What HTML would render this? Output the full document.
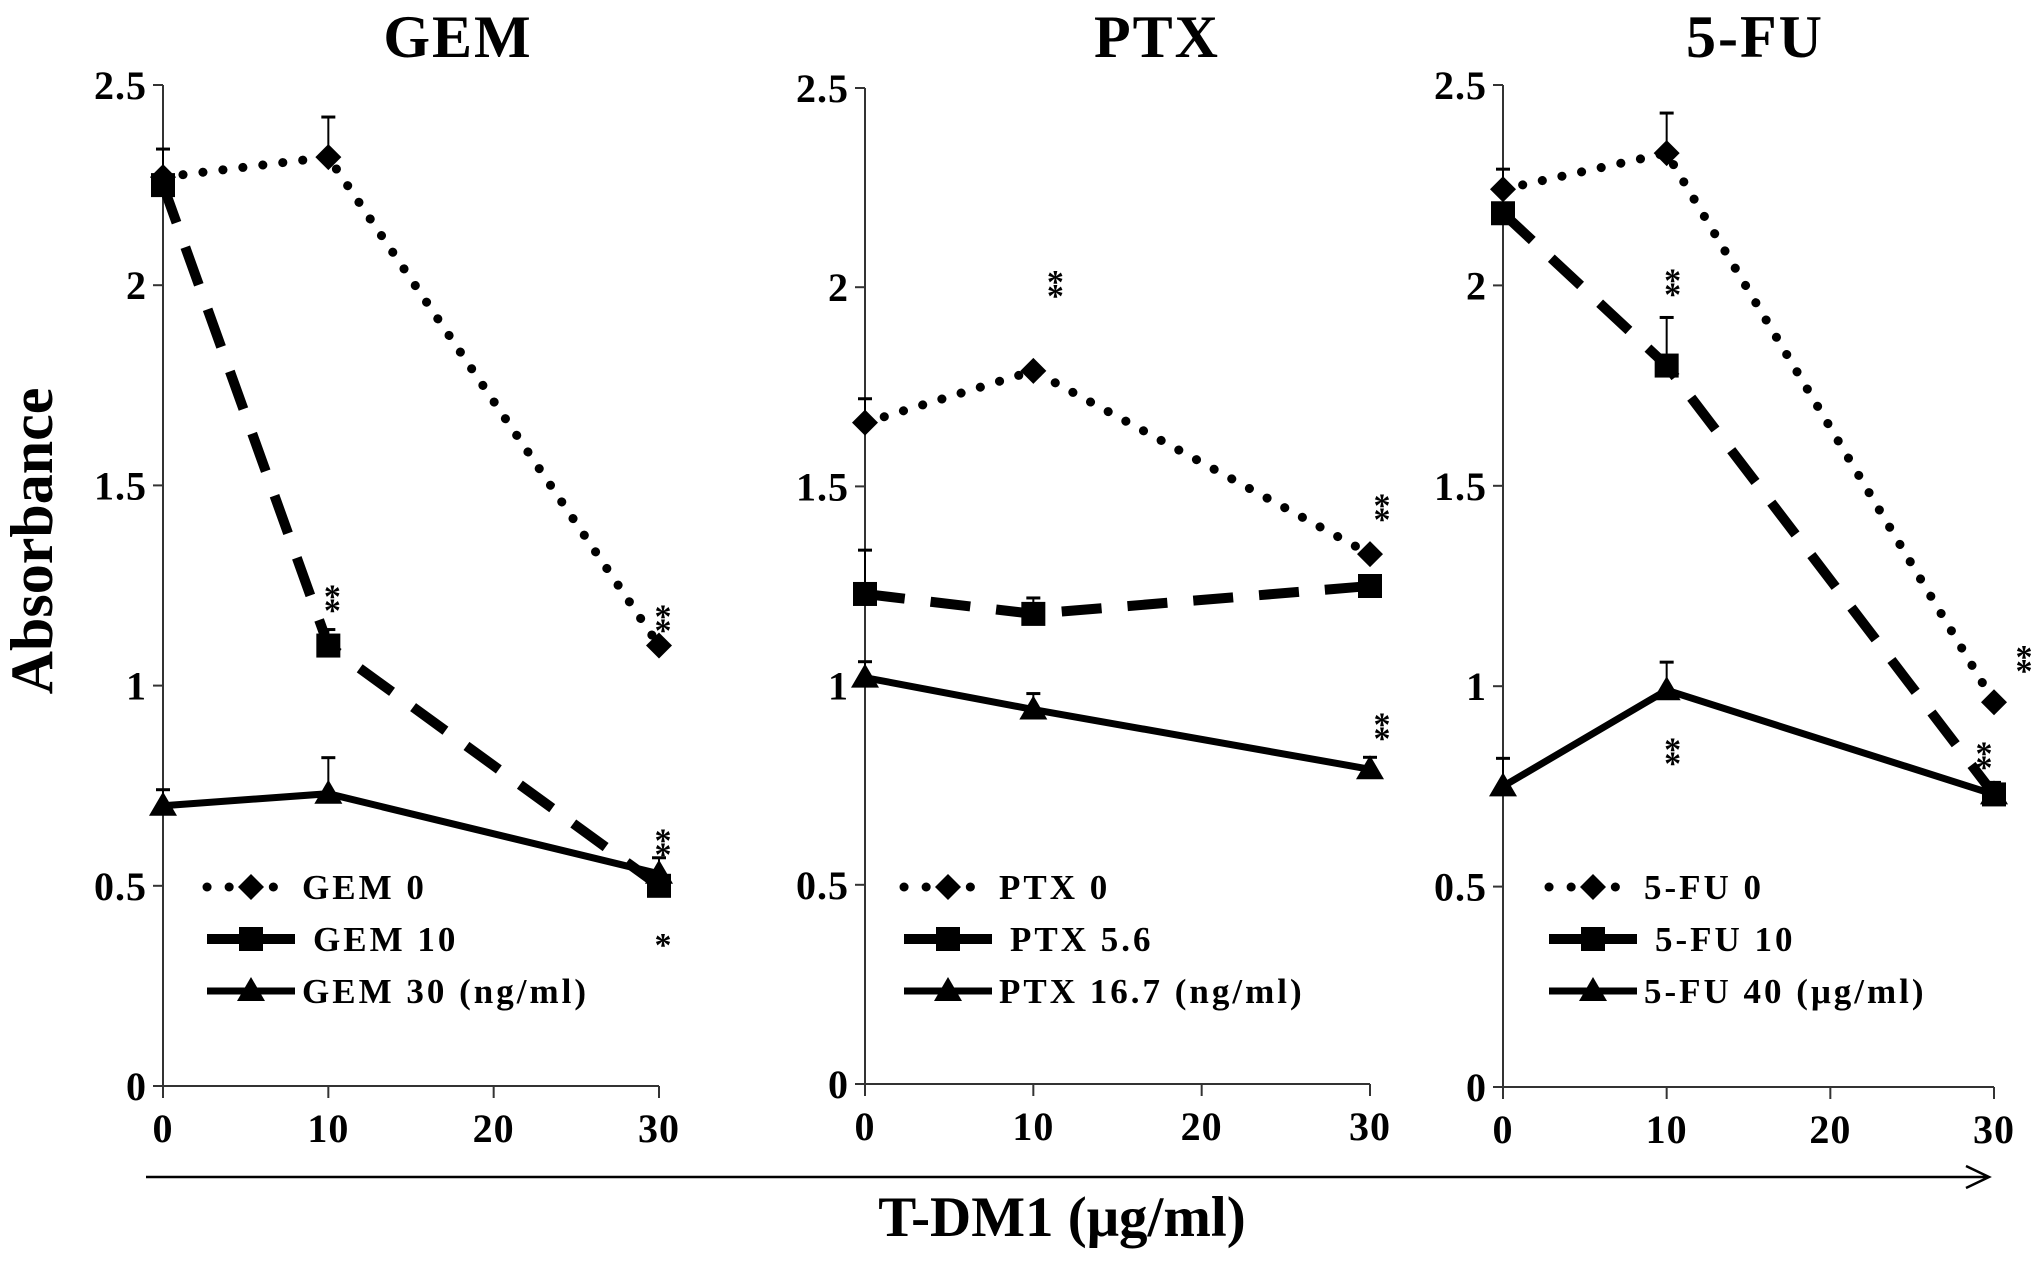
<!DOCTYPE html>
<html><head><meta charset="utf-8"><style>
html,body{margin:0;padding:0;background:#fff;}
svg{display:block;font-family:"Liberation Serif",serif;font-weight:bold;}
</style></head><body>
<svg id="c" width="2031" height="1265" viewBox="0 0 2031 1265" xmlns="http://www.w3.org/2000/svg"></svg>
<script>
const xCats = [0, 10, 30];
const xTicks = [0, 10, 20, 30];
const yTicks = [0, 0.5, 1, 1.5, 2, 2.5];
const yTickLabels = ["0", "0.5", "1", "1.5", "2", "2.5"];
const panelTitles = ["GEM", "PTX", "5-FU"];
const legendLabels = [["GEM 0", "GEM 10", "GEM 30 (ng/ml)"], ["PTX 0", "PTX 5.6", "PTX 16.7 (ng/ml)"], ["5-FU 0", "5-FU 10", "5-FU 40 (μg/ml)"]];
const gem0 = [2.27, 2.32, 1.10];
const gem0Err = [null, 2.42, null];
const gem10 = [2.25, 1.10, 0.50];
const gem10Err = [2.34, 1.14, 0.57];
const gem30 = [0.70, 0.73, 0.53];
const gem30Err = [0.74, 0.82, null];
const ptx0 = [1.66, 1.79, 1.33];
const ptx0Err = [1.72, null, null];
const ptx56 = [1.23, 1.18, 1.25];
const ptx56Err = [1.34, 1.22, null];
const ptx167 = [1.02, 0.94, 0.79];
const ptx167Err = [1.06, 0.98, 0.82];
const fu0 = [2.24, 2.33, 0.96];
const fu0Err = [2.29, 2.43, null];
const fu10 = [2.18, 1.80, 0.73];
const fu10Err = [null, 1.92, 0.76];
const fu40 = [0.75, 0.99, 0.73];
const fu40Err = [0.82, 1.06, null];
// significance marks: [x, y, count, dx]
const gemSig = [[10, 1.24, 2, 4], [30, 1.19, 2, 4], [30, 0.63, 2, 4], [30, 0.37, 1, 4]];
const ptxSig = [[10, 2.03, 2, 22], [30, 1.47, 2, 12], [30, 0.92, 2, 12]];
const fuSig = [[10, 2.03, 2, 6], [30, 1.09, 2, 30], [30, 0.85, 2, -10], [10, 0.86, 2, 6]];
const titleCenters = [458, 1157, 1755];

const panels = [
  {x0:163, x1:659, y0:1086, y1:85, series:[[gem0,gem0Err],[gem10,gem10Err],[gem30,gem30Err]], sig:gemSig, lx:207, ly:887},
  {x0:865, x1:1370, y0:1084, y1:88, series:[[ptx0,ptx0Err],[ptx56,ptx56Err],[ptx167,ptx167Err]], sig:ptxSig, lx:904, ly:887},
  {x0:1503, x1:1994, y0:1087, y1:85, series:[[fu0,fu0Err],[fu10,fu10Err],[fu40,fu40Err]], sig:fuSig, lx:1549, ly:887}
];
const styles = [
  {dash:"0.1 20", w:9, cap:"round", marker:"diamond"},
  {dash:"40 26", w:10, cap:"butt", marker:"square"},
  {dash:"", w:7, cap:"butt", marker:"triangle"}
];
const svg = document.getElementById('c');
const NS = "http://www.w3.org/2000/svg";
function el(tag, attrs, parent){ const e=document.createElementNS(NS,tag); for(const k in attrs) e.setAttribute(k,attrs[k]); (parent||svg).appendChild(e); return e; }
function txt(s, attrs, parent){ const e=el('text', attrs, parent); e.textContent=s; return e; }
function marker(type, x, y, g){
  let m;
  if(type==="diamond") m=el('polygon',{points:`${x},${y-13} ${x+13},${y} ${x},${y+13} ${x-13},${y}`,fill:'#000'},g);
  else if(type==="square") m=el('rect',{x:x-12,y:y-12,width:24,height:24,fill:'#000'},g);
  else m=el('polygon',{points:`${x},${y-14} ${x+14},${y+10} ${x-14},${y+10}`,fill:'#000'},g);
  return m;
}
panels.forEach((p, pi) => {
  const g = el('g', {});
  
  
  const sx = v => p.x0 + (p.x1 - p.x0) * v / 30;
  const sy = v => p.y0 + (p.y1 - p.y0) * v / 2.5;
  const t = txt(panelTitles[pi], {x:titleCenters[pi], y:57, 'font-size':60, 'letter-spacing':2, 'text-anchor':'middle'}, g);
  
  
  const ax = el('path', {d:`M${p.x0},${sy(2.5)} V${p.y0} H${p.x1}`, stroke:'#333', 'stroke-width':2, fill:'none'}, g);
  
  
  yTicks.forEach((v, i) => {
    el('line', {x1:p.x0-10, x2:p.x0, y1:sy(v), y2:sy(v), stroke:'#333', 'stroke-width':2}, g);
    const l = txt(yTickLabels[i], {x:p.x0-16, y:sy(v)+14, 'font-size':40, 'letter-spacing':1, 'text-anchor':'end'}, g);
    
    
  });
  xTicks.forEach(v => {
    el('line', {x1:sx(v), x2:sx(v), y1:p.y0, y2:p.y0+12, stroke:'#333', 'stroke-width':2}, g);
    const l = txt(String(v), {x:sx(v), y:p.y0+56, 'font-size':40, 'letter-spacing':1, 'text-anchor':'middle'}, g);
    
    
  });
  p.series.forEach((s, si) => {
    const st = styles[si];
    const sg = el('g', {}, g);
    
    
    const vals = s[0], errs = s[1];
    errs.forEach((e, i) => {
      if(e===null) return;
      el('line', {x1:sx(xCats[i]), x2:sx(xCats[i]), y1:sy(vals[i]), y2:sy(e), stroke:'#000', 'stroke-width':2}, sg);
      el('line', {x1:sx(xCats[i])-7, x2:sx(xCats[i])+7, y1:sy(e), y2:sy(e), stroke:'#000', 'stroke-width':3}, sg);
    });
    const d = vals.map((v, i) => (i ? 'L' : 'M') + sx(xCats[i]) + ',' + sy(v)).join(' ');
    const line = el('path', {d, stroke:'#000', 'stroke-width':st.w, fill:'none', 'stroke-linecap':st.cap, 'stroke-dasharray':st.dash}, sg);
    
    
    vals.forEach((v, i) => {
      const m = marker(st.marker, sx(xCats[i]), sy(v), sg);
      
      
    });
    const ly = p.ly + si * 52;
    const lg = el('g', {}, g);
    
    
    el('line', {x1:p.lx, x2:p.lx+88, y1:ly, y2:ly, stroke:'#000', 'stroke-width':st.w, 'stroke-linecap':st.cap, 'stroke-dasharray': si==0 ? "0.1 22" : ""}, lg);
    marker(st.marker, p.lx+44, ly, lg);
    txt(legendLabels[pi][si], {x:p.lx + (si==1?106:95), y:ly+12, 'font-size':35, 'letter-spacing':3}, lg);
  });
  p.sig.forEach(sg => {
    const a = el('g', {}, g);
    
    
    for(let k=0;k<sg[2];k++) txt('*', {x:sx(sg[0])+sg[3], y:sy(sg[1])+18+k*14, 'font-size':34, 'text-anchor':'middle'}, a);
  });
});
const yl = txt('Absorbance', {x:0, y:0, 'font-size':60, 'text-anchor':'middle', transform:'translate(52,541) rotate(-90)'});


const arr = el('path', {d:'M146,1177 H1988 M1966,1166 L1989,1177 L1966,1188', stroke:'#000', 'stroke-width':2.5, fill:'none'});


const xl = txt('T-DM1 (μg/ml)', {x:1062, y:1236, 'font-size':57, 'text-anchor':'middle'});


</script>
</body></html>
